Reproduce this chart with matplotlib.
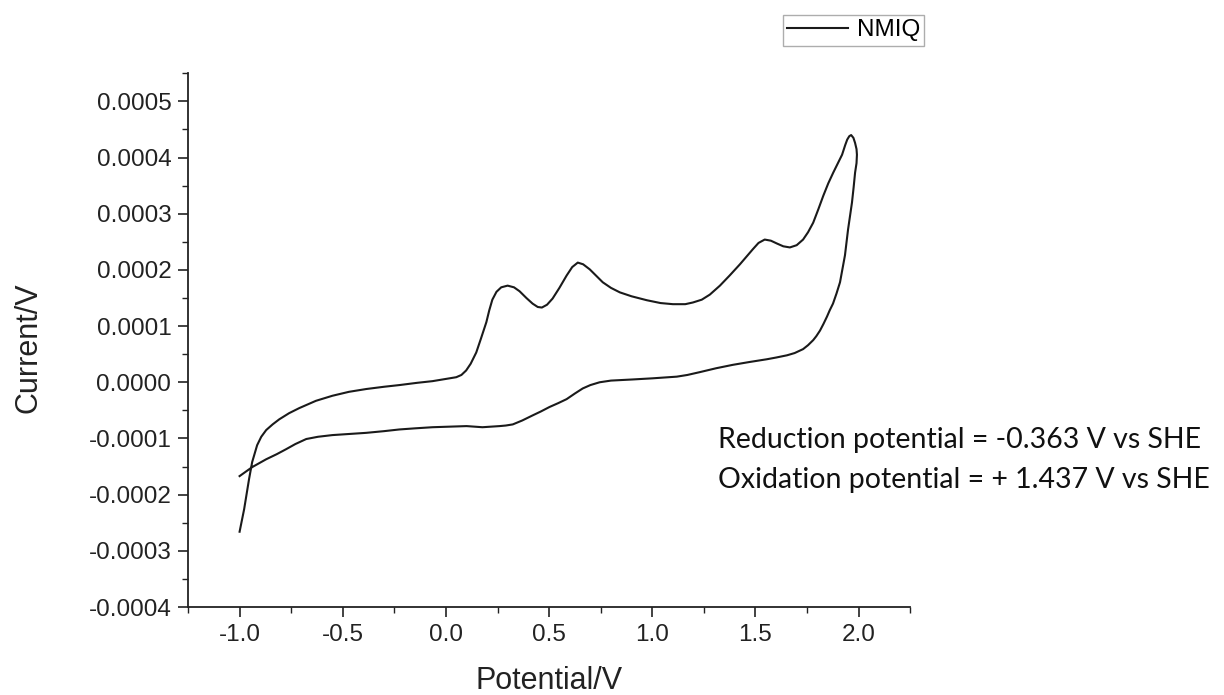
import numpy as np
import matplotlib.pyplot as plt
import matplotlib.ticker as mticker

# forward scan (upper branch)
fwd_x = [-1.0, -0.978, -0.954, -0.939, -0.915, -0.895, -0.871, -0.84, -0.808, -0.76,
         -0.711, -0.63, -0.55, -0.47, -0.386, -0.3, -0.226, -0.14, -0.065, 0.0,
         0.05, 0.075, 0.098, 0.12, 0.147, 0.17, 0.196, 0.21, 0.225, 0.245,
         0.268, 0.299, 0.33, 0.357, 0.39, 0.42, 0.445, 0.465, 0.49, 0.517,
         0.55, 0.585, 0.612, 0.639, 0.665, 0.697, 0.73, 0.76, 0.80, 0.843,
         0.9, 0.974, 1.04, 1.10, 1.16, 1.197, 1.24, 1.279, 1.328, 1.375,
         1.425, 1.46, 1.488, 1.515, 1.545, 1.575, 1.604, 1.635, 1.667, 1.70,
         1.731, 1.755, 1.78, 1.805, 1.829, 1.853, 1.877, 1.90, 1.92, 1.935,
         1.945, 1.955, 1.964, 1.975, 1.983, 1.99, 1.992]
fwd_y = [-0.000266, -0.000226, -0.000172, -0.000142, -0.000112, -0.000097, -0.000085,
         -0.000075, -0.000066, -0.000055, -0.000046, -0.000033, -0.000024, -0.000017,
         -0.000012, -0.000008, -0.000005, -0.000001, 0.000002, 0.000006, 0.000009,
         0.000013, 0.000021, 0.000033, 0.000053, 0.000078, 0.000107, 0.000128,
         0.000147, 0.000161, 0.000169, 0.000172, 0.000169, 0.000162, 0.000150,
         0.000140, 0.000134, 0.000133, 0.000138, 0.000149, 0.000168, 0.000190,
         0.000205, 0.000213, 0.000210, 0.000201, 0.000189, 0.000178, 0.000168,
         0.000160, 0.000153, 0.000146, 0.000141, 0.000139, 0.000139, 0.000142,
         0.000147, 0.000156, 0.000172, 0.000190, 0.000210, 0.000225, 0.000237,
         0.000248, 0.000254, 0.000252, 0.000247, 0.000242, 0.000240, 0.000244,
         0.000254, 0.000267, 0.000284, 0.000308, 0.000332, 0.000354, 0.000373,
         0.000390, 0.000405, 0.000422, 0.000432, 0.000438, 0.000440, 0.000435,
         0.000426, 0.000415, 0.000405]

# reverse scan (lower branch)
rev_x = [1.99, 1.983, 1.976, 1.968, 1.958, 1.949, 1.934, 1.91, 1.893, 1.876,
         1.86, 1.847, 1.83, 1.813, 1.795, 1.78, 1.755, 1.731, 1.69, 1.653,
         1.6, 1.556, 1.47, 1.39, 1.31, 1.23, 1.17, 1.119, 1.0, 0.905,
         0.8, 0.745, 0.70, 0.663, 0.625, 0.585, 0.545, 0.502, 0.46, 0.42,
         0.37, 0.324, 0.29, 0.26, 0.177, 0.1, 0.02, -0.065, -0.15, -0.226,
         -0.3, -0.386, -0.47, -0.55, -0.62, -0.677, -0.73, -0.774, -0.82, -0.871,
         -0.939, -1.0]
rev_y = [0.000390, 0.000373, 0.000347, 0.000320, 0.000295, 0.000272, 0.000226,
         0.000178, 0.000158, 0.000140, 0.000128, 0.000117, 0.000104, 0.000092,
         0.000082, 0.000075, 0.000066, 0.000059, 0.000052, 0.000048, 0.000044,
         0.000041, 0.000036, 0.000031, 0.000025, 0.000018, 0.000013, 0.000010,
         0.000007, 0.000005, 0.000003, 0.000000, -0.000005, -0.000011, -0.000020,
         -0.000030, -0.000037, -0.000044, -0.000052, -0.000059, -0.000068,
         -0.000075, -0.000077, -0.000078, -0.000080, -0.000078, -0.000079,
         -0.000080, -0.000082, -0.000084, -0.000087, -0.000090, -0.000092,
         -0.000094, -0.000097, -0.000101, -0.000110, -0.000119, -0.000128,
         -0.000137, -0.000151, -0.000167]

potential = np.array(fwd_x + rev_x)
current = np.array(fwd_y + rev_y)

note_lines = ['Reduction potential = -0.363 V vs SHE',
              'Oxidation potential = + 1.437 V vs SHE']

plt.rcParams['font.family'] = ['Liberation Sans', 'DejaVu Sans']

fig = plt.figure(figsize=(12.24, 6.95), dpi=100)
ax = fig.add_axes([0.1536, 0.1266, 0.590, 0.768])

ax.plot(potential, current, color='#1a1a1a', linewidth=1.5, label='NMIQ',
        solid_joinstyle='round')

ax.set_xlim(-1.25, 2.25)
ax.set_ylim(-0.0004, 0.00055)
ax.xaxis.set_major_locator(mticker.MultipleLocator(0.5))
ax.xaxis.set_minor_locator(mticker.MultipleLocator(0.25))
ax.yaxis.set_major_locator(mticker.MultipleLocator(0.0001))
ax.yaxis.set_minor_locator(mticker.MultipleLocator(0.00005))
ax.xaxis.set_major_formatter(mticker.FormatStrFormatter('%.1f'))
ax.yaxis.set_major_formatter(mticker.FormatStrFormatter('%.4f'))

for s in ['top', 'right']:
    ax.spines[s].set_visible(False)
for s in ['left', 'bottom']:
    ax.spines[s].set_linewidth(1.3)
    ax.spines[s].set_color('#222222')

ax.tick_params(which='major', direction='out', length=7, width=1.2, labelsize=17.5,
               colors='#222222', pad=5)
ax.tick_params(which='minor', direction='out', length=4, width=1.0, colors='#222222')

ax.set_xlabel('Potential/V', fontsize=22, color='#222222')
ax.set_ylabel('Current/V', fontsize=22, color='#222222')
ax.xaxis.label.set_va('center')
ax.yaxis.label.set_va('center')
ax.xaxis.set_label_coords(0.5, (607 - 681) / 534)
ax.yaxis.set_label_coords((29 - 188) / 722, (607 - 348) / 534)

leg = fig.legend(loc='upper left', bbox_to_anchor=(783/1224, 1 - 15/695), fontsize=17.5,
                 frameon=True, fancybox=False, handlelength=2.5, borderpad=0.18,
                 handletextpad=0.35, borderaxespad=0)
leg.get_frame().set_edgecolor('#999999')
leg.get_frame().set_linewidth(1.0)

for i, line in enumerate(note_lines):
    fig.text(718/1224, 1 - (440 + 40*i)/695, line, fontsize=20.5, family=['Lato', 'DejaVu Sans'],
             ha='left', va='center', color='#111111')

fig.savefig('out.png', dpi=100)
